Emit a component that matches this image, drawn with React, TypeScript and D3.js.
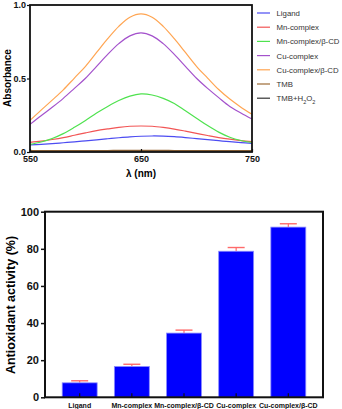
import React, { useEffect, useRef } from "react";
import * as d3 from "d3";

// UV-vis spectra (absorbance vs wavelength)
const wavelengths = [550, 560, 570, 580, 590, 600, 610, 620, 630, 640, 650, 660, 670, 680, 690, 700, 710, 720, 730, 740, 750];
const ligand = [0.048, 0.052, 0.057, 0.063, 0.069, 0.076, 0.083, 0.09, 0.097, 0.103, 0.107, 0.109, 0.108, 0.104, 0.098, 0.091, 0.084, 0.077, 0.07, 0.064, 0.059];
const mnComplex = [0.066, 0.074, 0.085, 0.098, 0.114, 0.13, 0.145, 0.157, 0.168, 0.175, 0.177, 0.175, 0.167, 0.156, 0.142, 0.127, 0.112, 0.098, 0.087, 0.078, 0.071];
const mnComplexCD = [0.052, 0.068, 0.092, 0.125, 0.168, 0.215, 0.265, 0.31, 0.35, 0.38, 0.395, 0.388, 0.365, 0.33, 0.28, 0.23, 0.18, 0.135, 0.1, 0.078, 0.065];
const cuComplex = [0.188, 0.247, 0.304, 0.365, 0.433, 0.502, 0.583, 0.664, 0.737, 0.79, 0.81, 0.79, 0.737, 0.664, 0.583, 0.502, 0.433, 0.37, 0.31, 0.265, 0.224];
const cuComplexCD = [0.215, 0.285, 0.353, 0.423, 0.503, 0.583, 0.677, 0.771, 0.855, 0.917, 0.94, 0.917, 0.855, 0.771, 0.677, 0.583, 0.503, 0.425, 0.36, 0.305, 0.256];
const tmb = [0.01, 0.01, 0.01, 0.01, 0.01, 0.01, 0.01, 0.01, 0.011, 0.011, 0.011, 0.011, 0.011, 0.01, 0.01, 0.01, 0.01, 0.01, 0.01, 0.01, 0.01];
const tmbH2O2 = [0.005, 0.005, 0.005, 0.005, 0.005, 0.005, 0.005, 0.005, 0.005, 0.005, 0.005, 0.005, 0.005, 0.005, 0.005, 0.005, 0.005, 0.005, 0.005, 0.005, 0.005];

const seriesNames = ["Ligand", "Mn-complex", "Mn-complex/β-CD", "Cu-complex", "Cu-complex/β-CD", "TMB", "TMB+H2O2"];
const seriesValues = [ligand, mnComplex, mnComplexCD, cuComplex, cuComplexCD, tmb, tmbH2O2];
const seriesColors = ["#4c4cf2", "#f25555", "#4fe24f", "#a452cc", "#ffa552", "#9c6a35", "#333333"];

const absTicks = [0, 0.5, 1.0];
const wlTicks = [550, 650, 750];

// antioxidant activity bars
const samples = ["Ligand", "Mn-complex", "Mn-complex/β-CD", "Cu-complex", "Cu-complex/β-CD"];
const activity = [7.8, 16.6, 34.6, 78.7, 91.7];
const activityErr = [1.1, 1.2, 1.6, 2.0, 1.8];
const actTicks = [0, 20, 40, 60, 80, 100];

const FONT = "Arial, 'Liberation Sans', sans-serif";

export default function App() {
  const svgRef = useRef<SVGSVGElement>(null);

  useEffect(() => {
    const svg = d3.select(svgRef.current);
    svg.selectAll("*").remove();
    svg.attr("font-family", FONT);

    // ---- top: spectra ----
    const x = d3.scaleLinear().domain([550, 750]).range([30, 252]);
    const y = d3.scaleLinear().domain([0, 1]).range([152, 5]);

    const line = d3
      .line<number>()
      .x((_, i) => x(wavelengths[i]))
      .y((d) => y(d))
      .curve(d3.curveCatmullRom);

    const top = svg.append("g");
    top
      .selectAll("path.spec")
      .data(seriesValues)
      .join("path")
      .attr("class", "spec")
      .attr("d", (d) => line(d))
      .attr("fill", "none")
      .attr("stroke", (_, i) => seriesColors[i])
      .attr("stroke-width", 1.2);

    top
      .append("rect")
      .attr("x", x(550))
      .attr("y", y(1))
      .attr("width", x(750) - x(550))
      .attr("height", y(0) - y(1))
      .attr("fill", "none")
      .attr("stroke", "#111")
      .attr("stroke-width", 1.8);

    top
      .append("g")
      .attr("transform", `translate(${x(550)},0)`)
      .call(d3.axisLeft(y).tickValues(absTicks).tickFormat(d3.format(".1f")).tickSize(3).tickPadding(1))
      .call((g) => g.select(".domain").remove())
      .call((g) => g.selectAll("line").attr("stroke", "#111").attr("stroke-width", 1.2))
      .call((g) =>
        g.selectAll("text").attr("font-family", FONT).attr("font-size", 9).attr("font-weight", "bold").attr("fill", "#111")
      );

    top
      .append("g")
      .attr("transform", `translate(0,${y(0)})`)
      .call(d3.axisBottom(x).tickValues(wlTicks).tickSize(-3).tickPadding(4))
      .call((g) => g.select(".domain").remove())
      .call((g) => g.selectAll("line").attr("stroke", "#111").attr("stroke-width", 1.2))
      .call((g) =>
        g.selectAll("text").attr("font-family", FONT).attr("font-size", 9).attr("font-weight", "bold").attr("fill", "#111")
      );

    top
      .append("text")
      .attr("x", 141)
      .attr("y", 177)
      .attr("text-anchor", "middle")
      .attr("font-size", 10)
      .attr("font-weight", "bold")
      .text("λ (nm)");

    top
      .append("text")
      .attr("transform", "translate(10.5,78) rotate(-90)")
      .attr("text-anchor", "middle")
      .attr("font-size", 10)
      .attr("font-weight", "bold")
      .text("Absorbance");

    const legend = top
      .selectAll("g.leg")
      .data(seriesNames)
      .join("g")
      .attr("class", "leg")
      .attr("transform", (_, i) => `translate(257,${13 + i * 14.2})`);
    legend
      .append("line")
      .attr("x1", 0)
      .attr("x2", 13)
      .attr("stroke", (_, i) => seriesColors[i])
      .attr("stroke-width", 1.2);
    legend.each(function (name) {
      const t = d3
        .select(this)
        .append("text")
        .attr("x", 19.5)
        .attr("y", 3)
        .attr("font-size", 7.8)
        .attr("fill", "#333");
      if (name === "TMB+H2O2") {
        t.append("tspan").text("TMB+H");
        t.append("tspan").attr("font-size", 5.5).attr("dy", 2.5).text("2");
        t.append("tspan").attr("dy", -2.5).text("O");
        t.append("tspan").attr("font-size", 5.5).attr("dy", 2.5).text("2");
      } else {
        t.text(name);
      }
    });

    // ---- bottom: bar chart ----
    const xb = d3.scaleBand().domain(samples).range([45, 323]).paddingInner(0.33).paddingOuter(0.33);
    const yb = d3.scaleLinear().domain([0, 100]).range([397.3, 211.7]);

    const bottom = svg.append("g");

    // error bars (upper only)
    bottom
      .selectAll("g.err")
      .data(samples)
      .join("g")
      .attr("class", "err")
      .each(function (s, i) {
        const cx = xb(s)! + xb.bandwidth() / 2;
        const g = d3.select(this);
        g.append("line")
          .attr("x1", cx)
          .attr("x2", cx)
          .attr("y1", yb(activity[i]))
          .attr("y2", yb(activity[i] + activityErr[i]))
          .attr("stroke", "#ff6a6a")
          .attr("stroke-width", 1.2);
        g.append("line")
          .attr("x1", cx - 8.5)
          .attr("x2", cx + 8.5)
          .attr("y1", yb(activity[i] + activityErr[i]))
          .attr("y2", yb(activity[i] + activityErr[i]))
          .attr("stroke", "#ff6a6a")
          .attr("stroke-width", 1.4);
      });

    bottom
      .selectAll("rect.bar")
      .data(samples)
      .join("rect")
      .attr("class", "bar")
      .attr("x", (d) => xb(d)!)
      .attr("y", (_, i) => yb(activity[i]))
      .attr("width", xb.bandwidth())
      .attr("height", (_, i) => yb(0) - yb(activity[i]))
      .attr("fill", "#0000ff")
      .attr("stroke", "#8c8cff")
      .attr("stroke-width", 0.8);

    bottom
      .append("rect")
      .attr("x", 45)
      .attr("y", yb(100))
      .attr("width", 323 - 45)
      .attr("height", yb(0) - yb(100))
      .attr("fill", "none")
      .attr("stroke", "#111")
      .attr("stroke-width", 2);

    bottom
      .append("g")
      .attr("transform", "translate(45,0)")
      .call(d3.axisLeft(yb).tickValues(actTicks).tickSize(4).tickPadding(2))
      .call((g) => g.select(".domain").remove())
      .call((g) => g.selectAll("line").attr("stroke", "#111").attr("stroke-width", 1.5))
      .call((g) =>
        g.selectAll("text").attr("font-family", FONT).attr("font-size", 11).attr("font-weight", "bold").attr("fill", "#111")
      );

    bottom
      .append("g")
      .attr("transform", `translate(0,${yb(0)})`)
      .call(d3.axisBottom(xb).tickSize(-4).tickPadding(6))
      .call((g) => g.select(".domain").remove())
      .call((g) => g.selectAll("line").attr("stroke", "#111").attr("stroke-width", 1.2))
      .call((g) =>
        g.selectAll("text").attr("font-family", FONT).attr("font-size", 7).attr("font-weight", "bold").attr("fill", "#111")
      );

    bottom
      .append("text")
      .attr("transform", "translate(15,305) rotate(-90)")
      .attr("text-anchor", "middle")
      .attr("font-size", 12.5)
      .attr("font-weight", "bold")
      .text("Antioxidant activity (%)");
  }, []);

  return (
    <svg
      ref={svgRef}
      width={342}
      height={409}
      style={{ position: "absolute", left: 0, top: 0, background: "#fff" }}
    />
  );
}
